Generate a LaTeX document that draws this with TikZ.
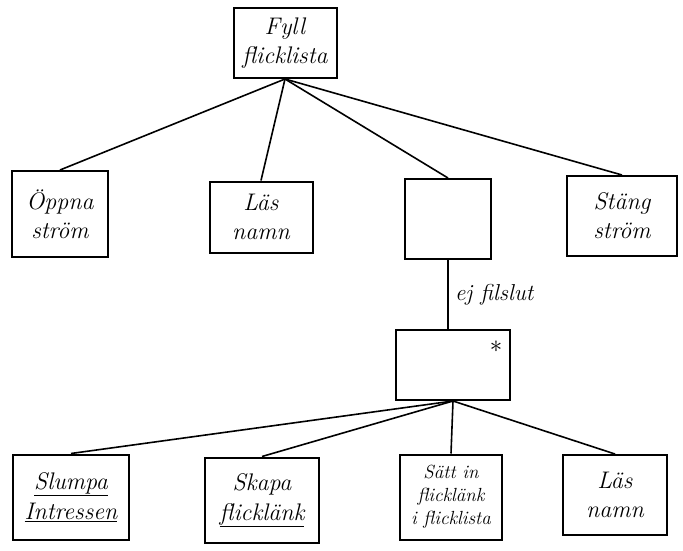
\documentclass[tikz,border=0pt]{standalone}
\usepackage{fontspec}
\begin{document}
\begin{tikzpicture}[x=1pt,y=-1pt,
  box/.style={draw,line width=2pt,align=center,inner sep=2pt,font=\fontsize{24}{29}\selectfont\itshape},
  link/.style={line width=1.6pt}]
\useasboundingbox (0,0) rectangle (683,551);
\node[box,minimum width=103pt,minimum height=70pt] (top) at (285,43) {Fyll\\flicklista};
\node[box,minimum width=96pt,minimum height=86pt] (open) at (60,214) {Öppna\\ström};
\node[box,minimum width=103pt,minimum height=71pt] (read1) at (261,217) {Läs\\namn};
\node[box,minimum width=86pt,minimum height=80pt] (iter) at (448,219) {};
\node[box,minimum width=110pt,minimum height=80pt] (close) at (622,216) {Stäng\\ström};
\node[box,minimum width=114pt,minimum height=70pt] (star) at (453,365) {};
\node[font=\fontsize{24}{24}\selectfont] (ast) at (496,347) {$\ast$};
\node[box,minimum width=116pt,minimum height=85pt] (rand) at (71,497) {\underline{Slumpa}\\[1pt]\underline{Intressen}};
\node[box,minimum width=114pt,minimum height=85pt] (make) at (262,500) {Skapa\\[1pt]\underline{flicklänk}};
\node[box,minimum width=102pt,minimum height=85pt,font=\fontsize{19}{23}\selectfont\itshape] (ins) at (451,497) {Sätt in\\flicklänk\\i flicklista};
\node[box,minimum width=104pt,minimum height=80pt] (read2) at (615,495) {Läs\\namn};
\draw[link] (top.south) -- (open.north);
\draw[link] (top.south) -- (read1.north);
\draw[link] (top.south) -- (iter.north);
\draw[link] (top.south) -- (close.north);
\draw[link] (iter.south) -- node[right,font=\fontsize{23}{25}\selectfont\itshape,xshift=3pt] (cond) {ej filslut} (iter.south |- star.north);
\draw[link] (star.south) -- (rand.north);
\draw[link] (star.south) -- (make.north);
\draw[link] (star.south) -- (ins.north);
\draw[link] (star.south) -- (read2.north);
\end{tikzpicture}
\end{document}
